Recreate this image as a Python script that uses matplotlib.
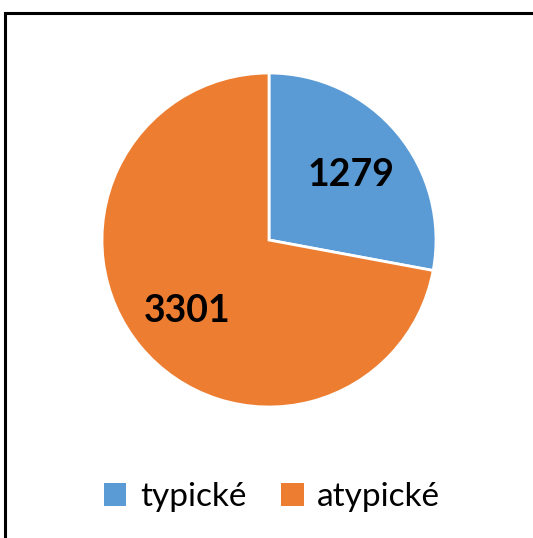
import matplotlib
matplotlib.use("Agg")
import matplotlib.pyplot as plt
from matplotlib.patches import Patch
from matplotlib.lines import Line2D

categories = ["typické", "atypické"]
values = [1279, 3301]
colors = ["#5B9BD5", "#ED7D31"]

W, H = 533, 538
fig = plt.figure(figsize=(W / 100, H / 100), dpi=100)

cx, cy, r = 269, 240, 167
ax = fig.add_axes([(cx - r) / W, (H - cy - r) / H, 2 * r / W, 2 * r / H])
total = sum(values)
wedges, texts, autotexts = ax.pie(
    values, colors=colors, startangle=90, counterclock=False,
    wedgeprops=dict(edgecolor="white", linewidth=2),
    autopct=lambda p: f"{round(p * total / 100)}", pctdistance=0.64,
    textprops=dict(fontsize=27, fontweight="bold", family="Lato", color="black"),
)
for t in autotexts:
    t.set_va("center_baseline")
ax.set_xlim(-1, 1)
ax.set_ylim(-1, 1)
ax.set_aspect("equal")

handles = [Patch(facecolor=c, edgecolor="none") for c in colors]
fig.legend(handles, categories, loc="center", bbox_to_anchor=(272 / W, 1 - 497 / H),
           ncol=2, frameon=False, handlelength=0.68, handleheight=0.68,
           handletextpad=0.4, columnspacing=1.05,
           prop=dict(family="Lato", size=24))

# outer frame (top and left edges)
fig.add_artist(Line2D([5 / W, 5 / W], [0, 1 - 13 / H], color="black", lw=2.2,
                      transform=fig.transFigure, solid_capstyle="projecting"))
fig.add_artist(Line2D([5 / W, 1], [1 - 13 / H, 1 - 13 / H], color="black", lw=2.2,
                      transform=fig.transFigure, solid_capstyle="projecting"))

fig.savefig("out.png", dpi=100)
